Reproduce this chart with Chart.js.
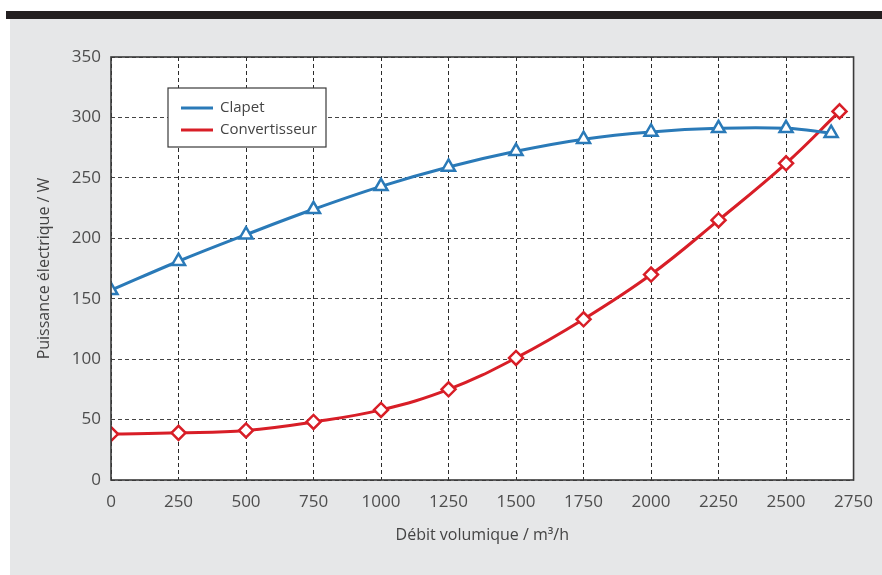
<!DOCTYPE html>
<html>
<head>
<meta charset="utf-8">
<script src="https://cdn.jsdelivr.net/npm/chart.js@4/dist/chart.umd.min.js"></script>
<style>
  html, body { margin: 0; padding: 0; background: #ffffff; }
  #wrap { position: relative; width: 882px; height: 575px; overflow: hidden; }
  #bar { position: absolute; left: 6px; top: 11px; width: 876px; height: 8px; background: #231f20; }
  #panel { position: absolute; left: 10px; top: 19px; width: 872px; height: 556px; background: #e6e7e8; }
  #box { position: absolute; left: 0; top: 0; width: 885px; height: 575px; }
</style>
</head>
<body>
<div id="wrap">
  <div id="bar"></div>
  <div id="panel"></div>
  <div id="box"><canvas id="c"></canvas></div>
</div>
<script>
// ---- data ----
const clapetX = [0, 250, 500, 750, 1000, 1250, 1500, 1750, 2000, 2250, 2500, 2667];
const clapetY = [157, 181, 203, 224, 243, 259, 272, 282, 288, 291, 291, 287];
const convX = [0, 250, 500, 750, 1000, 1250, 1500, 1750, 2000, 2250, 2500, 2698];
const convY = [38, 39, 41, 48, 58, 75, 101, 133, 170, 215, 262, 305];
const seriesLabels = ['Clapet', 'Convertisseur'];
const xTitle = 'Débit volumique / m³/h';
const yTitle = 'Puissance électrique / W';

const FONT = '"Open Sans", "Noto Sans", sans-serif';
const BLUE = '#2a7ab8';
const RED = '#d81e27';

const toPts = (xs, ys) => xs.map((x, i) => ({ x: x, y: ys[i] }));

const plotFrame = {
  id: 'plotFrame',
  beforeDraw(chart) {
    const a = chart.chartArea, ctx = chart.ctx;
    ctx.save();
    ctx.fillStyle = '#ffffff';
    ctx.fillRect(a.left, a.top, a.right - a.left, a.bottom - a.top);
    ctx.restore();
  },
  afterDatasetsDraw(chart) {
    const a = chart.chartArea, ctx = chart.ctx;
    ctx.save();
    ctx.strokeStyle = '#3a3a3a';
    ctx.lineWidth = 1.6;
    ctx.strokeRect(a.left, a.top, a.right - a.left, a.bottom - a.top);
    // legend box
    const lx = 168, ly = 88, lw = 158, lh = 59;
    ctx.fillStyle = '#ffffff';
    ctx.fillRect(lx, ly, lw, lh);
    ctx.strokeStyle = '#3a3a3a';
    ctx.lineWidth = 1.2;
    ctx.strokeRect(lx, ly, lw, lh);
    const rows = [108, 130];
    chart.data.datasets.forEach((ds, i) => {
      const y = rows[i];
      ctx.strokeStyle = ds.borderColor;
      ctx.lineWidth = 3;
      ctx.beginPath();
      ctx.moveTo(181, y);
      ctx.lineTo(213, y);
      ctx.stroke();
      ctx.fillStyle = '#444444';
      ctx.font = '15px ' + FONT;
      ctx.textBaseline = 'middle';
      ctx.textAlign = 'left';
      ctx.fillText(ds.label, 220, y);
    });
    ctx.restore();
  }
};

new Chart(document.getElementById('c'), {
  type: 'line',
  data: {
    datasets: [
      {
        label: seriesLabels[0],
        data: toPts(clapetX, clapetY),
        borderColor: BLUE,
        backgroundColor: '#ffffff',
        pointBorderColor: BLUE,
        pointBackgroundColor: '#ffffff',
        pointStyle: 'triangle',
        pointRadius: 7.5,
        pointBorderWidth: 2.5,
        borderWidth: 3,
        tension: 0.4,
        fill: false
      },
      {
        label: seriesLabels[1],
        data: toPts(convX, convY),
        borderColor: RED,
        backgroundColor: '#ffffff',
        pointBorderColor: RED,
        pointBackgroundColor: '#ffffff',
        pointStyle: 'rectRot',
        pointRadius: 7,
        pointBorderWidth: 2.5,
        borderWidth: 3,
        tension: 0.4,
        fill: false
      }
    ]
  },
  options: {
    responsive: true,
    maintainAspectRatio: false,
    animation: false,
    devicePixelRatio: 1,
    layout: { padding: { left: 0, top: 57, right: 9, bottom: 0 } },
    plugins: {
      legend: { display: false },
      tooltip: { enabled: false }
    },
    scales: {
      x: {
        type: 'linear',
        min: 0, max: 2750,
        afterFit(s) { s.height = 95; },
        ticks: { stepSize: 250, padding: 12, color: '#4d4d4d', font: { family: FONT, size: 17 }, callback: (v) => String(v) },
        grid: { color: '#2b2b2b', lineWidth: 1, drawTicks: false },
        border: { display: false, dash: [4, 3] },
        title: { display: true, text: xTitle, color: '#444444', font: { family: FONT, size: 16 }, padding: { top: 0, bottom: 30 } }
      },
      y: {
        type: 'linear',
        min: 0, max: 350,
        afterFit(s) { s.width = 111; },
        ticks: { stepSize: 50, padding: 10, color: '#4d4d4d', font: { family: FONT, size: 17 }, callback: (v) => String(v) },
        grid: { color: '#444444', lineWidth: 1, drawTicks: false },
        border: { display: false, dash: [4, 3] },
        title: { display: true, text: yTitle, color: '#444444', font: { family: FONT, size: 16 }, padding: { top: 35, bottom: 0 } }
      }
    }
  },
  plugins: [plotFrame]
});
</script>
</body>
</html>
